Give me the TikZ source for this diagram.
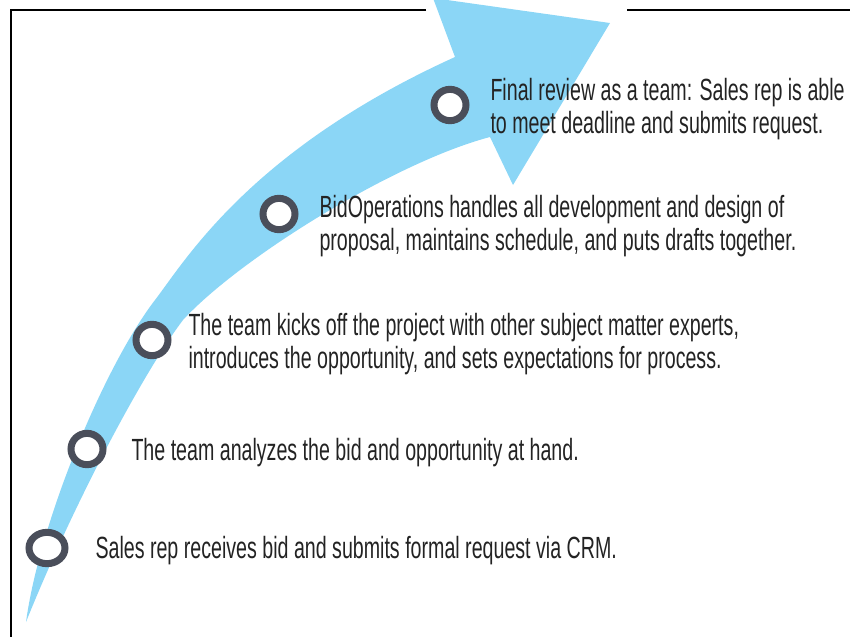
\documentclass[tikz,border=0pt]{standalone}
\usepackage{fontspec}
\setmainfont{Liberation Sans}[FakeStretch=0.64]
\usetikzlibrary{shapes.geometric}
\definecolor{arrowblue}{RGB}{139,214,246}
\definecolor{ringgray}{RGB}{74,78,90}
\definecolor{textdark}{RGB}{35,35,35}
\tikzset{every picture/.style={line width=0.75pt}}
\tikzset{
  ring/.style={ellipse, draw=ringgray, line width=5.25pt, fill=white, inner sep=0pt, minimum width=24pt, minimum height=23.5pt},
  steptext/.style={anchor=base west, align=left, inner sep=0pt, text=textdark, font=\fontsize{23}{24.75}\selectfont}
}

\begin{document}
\begin{tikzpicture}[x=0.75pt,y=0.75pt,yscale=-1,xscale=1]
		\useasboundingbox (0,0) rectangle (850,637);
		
		%Shape: Frame [id:frame]
		\draw[line width=1.1pt]   (426,10) -- (11,10) -- (11,637) ;
		\draw[line width=1.1pt]   (627,10) -- (850,10) ;
		
		%Shape: Curved Arrow [id:arrow]
		\fill[arrowblue] (26,622) .. controls (40,520) and (105,365) .. (155,300) .. controls (185,261) and (250,150) .. (455,57) -- (433,-2) -- (610,23) -- (513,185) -- (490,137) .. controls (395,162) and (240,258) .. (183,320) .. controls (145,370) and (75,500) .. (26,622) -- cycle ;
		
		%Shape: Rings
		\node[ring, minimum width=27pt, minimum height=23.5pt] (ringA) at (47,548) {};
		\node[ring] (ringB) at (87,449) {};
		\node[ring] (ringC) at (152,340) {};
		\node[ring] (ringD) at (279,214) {};
		\node[ring] (ringE) at (450,105) {};
		
		% Text Node (base = last line)
		\node[steptext] (stepA) at (95,558) {Sales rep receives bid and submits formal request via CRM.};
		% Text Node
		\node[steptext] (stepB) at (131,460) {The team analyzes the bid and opportunity at hand.};
		% Text Node
		\node[steptext] (stepC) at (188,368) {The team kicks off the project with other subject matter experts,\\introduces the opportunity, and sets expectations for process.};
		% Text Node
		\node[steptext] (stepD) at (319,250) {BidOperations handles all development and design of\\proposal, maintains schedule, and puts drafts together.};
		% Text Node
		\node[steptext] (stepE) at (490,133) {Final review as a team: Sales rep is able\\to meet deadline and submits request.};
		
\end{tikzpicture}
\end{document}
